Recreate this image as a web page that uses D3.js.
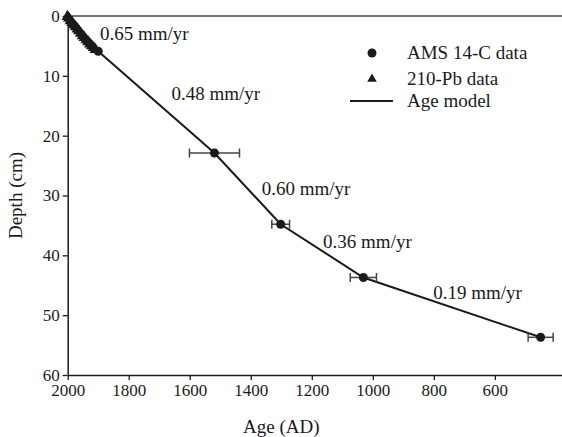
<!DOCTYPE html>
<html>
<head>
<meta charset="utf-8">
<script src="https://cdn.jsdelivr.net/npm/d3@7"></script>
<style>
  body { margin: 0; background: #fff; }
  svg, svg text { font-family: "Liberation Serif", "Times New Roman", "DejaVu Serif", serif; }
</style>
</head>
<body>
<script>
// 210-Pb dates (age AD, depth cm)
const pbAge = [2001, 1996, 1991, 1985, 1980, 1974, 1968, 1963, 1957, 1951, 1945, 1939, 1933, 1927, 1921, 1915, 1909];
const pbDepth = [0.1, 0.4, 0.8, 1.1, 1.5, 1.8, 2.2, 2.5, 2.9, 3.3, 3.6, 4.0, 4.3, 4.7, 5.0, 5.3, 5.6];

// AMS 14-C dates with age error (years)
const cAge = [1900, 1519, 1302, 1031, 450];
const cDepth = [5.9, 22.9, 34.8, 43.7, 53.7];
const cErr = [0, 82, 29, 43, 41];

// age model nodes
const modelAge = [2000, 1900, 1519, 1302, 1031, 450];
const modelDepth = [0, 5.9, 22.9, 34.8, 43.7, 53.7];

// sedimentation rate labels
const rateText = ["0.65 mm/yr", "0.48 mm/yr", "0.60 mm/yr", "0.36 mm/yr", "0.19 mm/yr"];
const rateAge = [1894, 1660, 1364, 1163, 802];
const rateDepth = [4.0, 14.1, 29.9, 38.8, 47.3];

const xTicks = [2000, 1800, 1600, 1400, 1200, 1000, 800, 600];
const yTicks = [0, 10, 20, 30, 40, 50, 60];

const width = 562, height = 437;
const svg = d3.select("body").append("svg").attr("width", width).attr("height", height);

const x = d3.scaleLinear().domain([2000, 380]).range([67.7, 562]);
const y = d3.scaleLinear().domain([0, 60]).range([16, 375]);

const ink = "#1a1a1a";

// top frame line
svg.append("line")
  .attr("x1", x(2000)).attr("x2", width)
  .attr("y1", y(0)).attr("y2", y(0))
  .attr("stroke", "#444").attr("stroke-width", 1.3);

// x axis
const xAxis = svg.append("g")
  .attr("transform", `translate(0,${y(60)})`)
  .call(d3.axisBottom(x).tickValues(xTicks).tickFormat(d3.format("d"))
    .tickSize(5).tickSizeOuter(0).tickPadding(4));

// y axis
const yAxis = svg.append("g")
  .attr("transform", `translate(${x(2000)},0)`)
  .call(d3.axisLeft(y).tickValues(yTicks).tickFormat(d3.format("d"))
    .tickSize(5).tickSizeOuter(0).tickPadding(3));

[xAxis, yAxis].forEach(g => {
  g.attr("font-family", null);
  g.select(".domain").attr("stroke", ink).attr("stroke-width", 1.5);
  g.selectAll(".tick line").attr("stroke", ink).attr("stroke-width", 1.3);
  g.selectAll(".tick text").attr("fill", ink).style("font-size", "17px");
});

// axis titles
svg.append("text")
  .attr("x", x(1300)).attr("y", 433)
  .attr("text-anchor", "middle")
  .attr("fill", ink).style("font-size", "19px")
  .text("Age (AD)");

svg.append("text")
  .attr("transform", `translate(22,${(y(0) + y(60)) / 2}) rotate(-90)`)
  .attr("text-anchor", "middle")
  .attr("fill", ink).style("font-size", "19px")
  .text("Depth (cm)");

// age model line
const line = d3.line().x(d => x(d[0])).y(d => y(d[1]));
svg.append("path")
  .datum(modelAge.map((a, i) => [a, modelDepth[i]]))
  .attr("d", line)
  .attr("fill", "none").attr("stroke", ink).attr("stroke-width", 2);

// 210-Pb triangles
svg.selectAll(".pb")
  .data(pbAge.map((a, i) => [a, pbDepth[i]]))
  .enter().append("path")
  .attr("class", "pb")
  .attr("transform", d => `translate(${x(d[0])},${y(d[1])})`)
  .attr("d", d3.symbol(d3.symbolTriangle, 60))
  .attr("fill", ink);

// error bars
const eb = svg.selectAll(".eb")
  .data(cAge.map((a, i) => ({ a, d: cDepth[i], e: cErr[i] })).filter(d => d.e > 0))
  .enter().append("g").attr("class", "eb")
  .attr("stroke", "#444").attr("stroke-width", 1.5);
eb.append("line")
  .attr("x1", d => x(d.a + d.e)).attr("x2", d => x(d.a - d.e))
  .attr("y1", d => y(d.d)).attr("y2", d => y(d.d));
eb.append("line")
  .attr("x1", d => x(d.a + d.e)).attr("x2", d => x(d.a + d.e))
  .attr("y1", d => y(d.d) - 4.5).attr("y2", d => y(d.d) + 4.5);
eb.append("line")
  .attr("x1", d => x(d.a - d.e)).attr("x2", d => x(d.a - d.e))
  .attr("y1", d => y(d.d) - 4.5).attr("y2", d => y(d.d) + 4.5);

// AMS 14-C circles
svg.selectAll(".c14")
  .data(cAge.map((a, i) => [a, cDepth[i]]))
  .enter().append("circle")
  .attr("class", "c14")
  .attr("cx", d => x(d[0])).attr("cy", d => y(d[1]))
  .attr("r", 4.5).attr("fill", ink);

// rate labels
svg.selectAll(".rate")
  .data(rateText.map((t, i) => ({ t, a: rateAge[i], d: rateDepth[i] })))
  .enter().append("text")
  .attr("class", "rate")
  .attr("x", d => x(d.a)).attr("y", d => y(d.d))
  .attr("fill", ink).style("font-size", "19px")
  .text(d => d.t);

// legend
const legend = svg.append("g").attr("transform", "translate(372,0)");
legend.append("circle").attr("cx", 0).attr("cy", 53).attr("r", 4.5).attr("fill", ink);
legend.append("path").attr("transform", "translate(0,79)")
  .attr("d", d3.symbol(d3.symbolTriangle, 40)).attr("fill", ink);
legend.append("line").attr("x1", -22).attr("x2", 21).attr("y1", 101).attr("y2", 101)
  .attr("stroke", ink).attr("stroke-width", 2);
const legendText = ["AMS 14-C data", "210-Pb data", "Age model"];
const legendY = [53, 79, 101];
legend.selectAll(".lt")
  .data(legendText)
  .enter().append("text")
  .attr("class", "lt")
  .attr("x", 35).attr("y", (d, i) => legendY[i])
  .attr("dy", "0.33em")
  .attr("fill", ink).style("font-size", "19px")
  .text(d => d);
</script>
</body>
</html>
